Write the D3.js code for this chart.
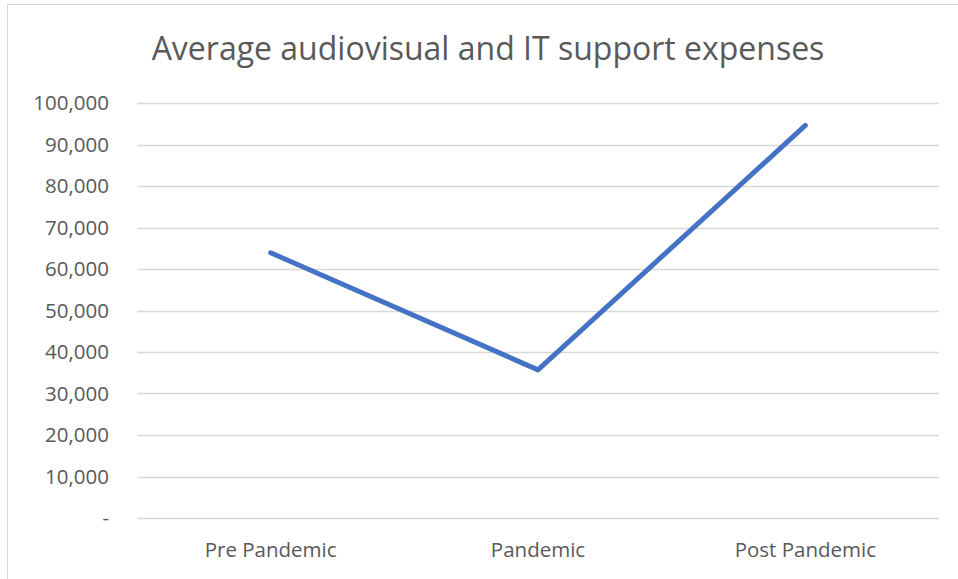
<!DOCTYPE html>
<html>
<head>
<meta charset="utf-8">
<script src="https://cdn.jsdelivr.net/npm/d3@7"></script>
<style>
  body { margin: 0; background: #fff; }
  svg text { font-family: "Open Sans", "Noto Sans", sans-serif; fill: #595959; }
</style>
</head>
<body>
<div id="chart"></div>
<script>
// chart data
const categories = ["Pre Pandemic", "Pandemic", "Post Pandemic"];
const expenses = [63900, 35700, 94600];
const yTicks = [0, 10000, 20000, 30000, 40000, 50000, 60000, 70000, 80000, 90000, 100000];
const title = "Average audiovisual and IT support expenses";

const width = 958;
const height = 579;
const margin = { top: 103, right: 19, bottom: 61, left: 137 };

const svg = d3.select("#chart")
  .append("svg")
  .attr("width", width)
  .attr("height", height);

// outer frame of the chart area
svg.append("rect")
  .attr("x", 7.5).attr("y", 4.5)
  .attr("width", 980).attr("height", 600)
  .attr("fill", "none")
  .attr("stroke", "#d9d9d9")
  .attr("stroke-width", 1);

const xScale = d3.scaleBand()
  .domain(categories)
  .range([margin.left, width - margin.right]);

const yScale = d3.scaleLinear()
  .domain([0, 100000])
  .range([height - margin.bottom, margin.top]);

// gridlines
svg.append("g")
  .selectAll("line")
  .data(yTicks)
  .enter()
  .append("line")
  .attr("x1", margin.left)
  .attr("x2", width - margin.right)
  .attr("y1", d => Math.round(yScale(d)) + 0.5)
  .attr("y2", d => Math.round(yScale(d)) + 0.5)
  .attr("stroke", "#d9d9d9")
  .attr("stroke-width", 1.3);

// y axis labels
const yAxis = d3.axisLeft(yScale)
  .tickValues(yTicks)
  .tickSize(0)
  .tickPadding(28)
  .tickFormat(d => d === 0 ? "-" : d3.format(",")(d));

svg.append("g")
  .attr("transform", `translate(${margin.left},0)`)
  .call(yAxis)
  .call(g => g.select(".domain").remove())
  .call(g => g.selectAll("text").style("font-size", "20.5px").attr("fill", "#595959"));

// x axis labels
const xAxis = d3.axisBottom(xScale).tickSize(0).tickPadding(24);

svg.append("g")
  .attr("transform", `translate(0,${height - margin.bottom})`)
  .call(xAxis)
  .call(g => g.select(".domain").remove())
  .call(g => g.selectAll("text").style("font-size", "20.5px").attr("fill", "#595959"));

// the line
const line = d3.line()
  .x((d, i) => xScale(categories[i]) + xScale.bandwidth() / 2)
  .y(d => yScale(d));

svg.append("path")
  .datum(expenses)
  .attr("d", line)
  .attr("fill", "none")
  .attr("stroke", "#4472c4")
  .attr("stroke-width", 5)
  .attr("stroke-linecap", "round")
  .attr("stroke-linejoin", "round");

// title
svg.append("text")
  .attr("x", 488)
  .attr("y", 60)
  .attr("text-anchor", "middle")
  .style("font-size", "32px")
  .text(title);
</script>
</body>
</html>
